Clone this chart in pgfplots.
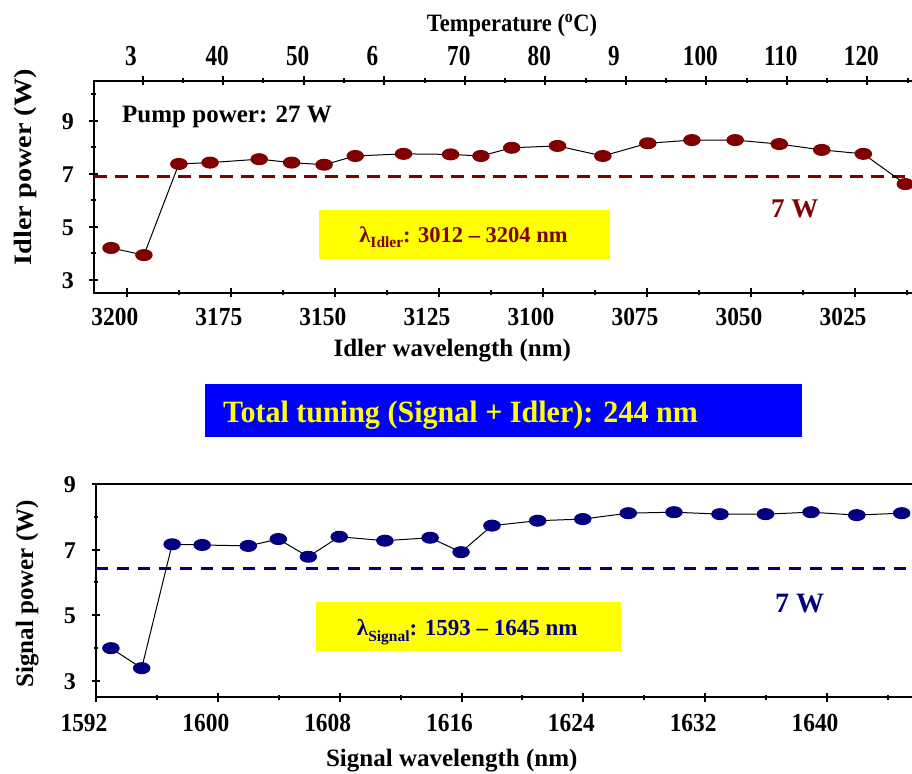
\documentclass[border=0pt]{standalone}
\usepackage{fontspec}
\setmainfont{Liberation Serif}
\newfontfamily\fxt{Liberation Serif}[FakeStretch=0.9]
\newfontfamily\ftt{Liberation Serif}[FakeStretch=0.8]
\newfontfamily\fyl{Liberation Serif}[FakeStretch=1.13]
\newfontfamily\fti{Liberation Serif}[FakeStretch=0.9]
\newfontfamily\fban{Liberation Serif}[FakeStretch=0.97]
\usepackage{pgfplots}
\pgfplotsset{compat=1.18}
\definecolor{dred}{RGB}{128,0,0}
\definecolor{navy}{RGB}{0,0,128}
\definecolor{ybox}{RGB}{255,255,0}
\definecolor{bban}{RGB}{0,0,255}

\pgfplotstableread{
x y
3203.8 4.20
3195.9 3.93
3187.5 7.37
3180.0 7.42
3168.2 7.55
3160.4 7.42
3152.6 7.34
3145.1 7.67
3133.5 7.75
3122.2 7.73
3114.9 7.67
3107.5 7.98
3096.5 8.05
3085.6 7.67
3074.8 8.15
3064.2 8.27
3053.8 8.27
3043.2 8.12
3033.0 7.90
3023.0 7.75
3012.9 6.61
}\idler

\pgfplotstableread{
x y
1592.98 3.99
1595.00 3.38
1597.00 7.16
1598.97 7.14
1602.00 7.11
1603.97 7.32
1605.94 6.78
1607.97 7.39
1610.97 7.27
1613.94 7.36
1615.97 6.92
1618.00 7.73
1621.00 7.88
1623.96 7.93
1626.95 8.11
1629.95 8.14
1632.97 8.08
1635.96 8.08
1638.95 8.14
1641.95 8.05
1644.90 8.11
}\signal

\pgfplotsset{
  mystyle/.style={
    scale only axis,
    axis line style={line width=2.5pt, line cap=rect},
    x axis line style={-},
    y axis line style={-},
    every outer x axis line/.append style={-},
    every outer y axis line/.append style={-},
    tick align=inside,
    major tick length=9pt,
    minor tick length=5pt,
    every tick/.style={black, line width=2pt},
    /pgf/number format/assume math mode=true,
    /pgf/number format/1000 sep={},
    yticklabel style={font=\bfseries\fontsize{24}{24}\selectfont, anchor=east, inner sep=0pt, xshift=-15.5pt, yshift=-1pt},
    xlabel style={font=\bfseries\fontsize{25}{25}\selectfont, anchor=base},
  },
  wavetick/.style={
    xticklabel style={font=\fxt\bfseries\fontsize{26}{26}\selectfont, anchor=base, inner sep=0pt, yshift=#1, xshift=-12pt},
  }
}

\begin{document}
\begin{tikzpicture}[x=1pt,y=1pt]
\useasboundingbox (0,0) rectangle (912,773);

% ---------- Idler (top) ----------
\begin{axis}[mystyle, wavetick=-28.5pt,
  at={(94pt,480pt)}, anchor=south west,
  width=818pt, height=212pt,
  x dir=reverse,
  xmin=3011.3, xmax=3207.9, ymin=2.5, ymax=10.5,
  axis x line=bottom, axis y line=left,
  x axis line style={-}, y axis line style={-},
  xtick={3025,3050,...,3200},
  minor xtick={3012.5,3037.5,...,3187.5},
  ytick={3,5,7,9}, minor ytick={4,6,8,10},
  xlabel={Idler wavelength (nm)},
  xlabel style={at={(axis description cs:0.438,-0.300)}},
  ylabel={Idler power (W)},
  ylabel style={font=\fyl\bfseries\fontsize{25}{25}\selectfont, at={(axis description cs:-0.0758,0.594)}, anchor=base},
]
\addplot[dred, line width=3pt, dash pattern=on 13pt off 8pt] coordinates {(3207.9,6.90) (3011.3,6.90)};
\addplot[black, line width=1pt, mark=*, mark size=5.5pt,
  mark options={xscale=1.5, fill=dred, draw=dred, solid}] table {\idler};
\end{axis}

% ---------- Temperature (top scale) ----------
\begin{axis}[mystyle,
  at={(94pt,480pt)}, anchor=south west,
  width=818pt, height=212pt,
  xmin=23.95, xmax=125.55, ymin=0, ymax=1,
  axis x line=top, axis y line=none, ytick=\empty,
  x axis line style={-},
  xtick={30,40,...,120},
  xticklabels={3\phantom{0},40,50,6\phantom{0},70,80,9\phantom{0},100,110,120},
  minor xtick={35,45,...,125},
  xticklabel style={font=\ftt\bfseries\fontsize{29}{29}\selectfont, anchor=base, inner sep=0pt, yshift=11pt, xshift=-6pt},
  xlabel={Temperature (\textsuperscript{o}C)},
  xlabel style={font=\fti\bfseries\fontsize{25}{25}\selectfont, at={(axis description cs:0.511,1.2325)}, anchor=base},
]
\end{axis}

% ---------- Signal (bottom) ----------
\begin{axis}[mystyle, wavetick=-29.5pt,
  at={(96pt,76pt)}, anchor=south west,
  width=816pt, height=213pt,
  xmin=1592, xmax=1645.58, ymin=2.5, ymax=9,
  axis x line=bottom, axis y line=left,
  x axis line style={-}, y axis line style={-},
  xtick={1592,1600,...,1640},
  minor xtick={1596,1604,...,1644},
  ytick={3,5,7,9}, minor ytick={4,6,8},
  xlabel={Signal wavelength (nm)},
  xlabel style={at={(axis description cs:0.436,-0.327)}},
  ylabel={Signal power (W)},
  ylabel style={font=\bfseries\fontsize{25}{25}\selectfont, at={(axis description cs:-0.0772,0.4836)}, anchor=base},
]
\addplot[navy, line width=3pt, dash pattern=on 12pt off 9pt] coordinates {(1592,6.43) (1645.58,6.43)};
\addplot[black, line width=1pt, mark=*, mark size=5.5pt,
  mark options={xscale=1.5, fill=navy, draw=navy, solid}] table {\signal};
\end{axis}
% top line of the signal box
\draw[line width=2.5pt, line cap=rect] (96,289) -- (912,289);

% ---------- annotations ----------
\node[anchor=base west, inner sep=0pt, font=\bfseries\fontsize{25}{25}\selectfont] at (122,650) {Pump power: 27 W};
\node[anchor=base west, inner sep=0pt, text=dred, font=\bfseries\fontsize{27}{27}\selectfont] at (771,555.7) {7 W};
\node[anchor=base west, inner sep=0pt, text=navy, font=\bfseries\fontsize{28}{28}\selectfont] at (775,160.3) {7 W};

\fill[ybox] (319,514) rectangle (610,563);
\node[anchor=base, inner sep=0pt, text=dred, font=\bfseries\fontsize{22.5}{22.5}\selectfont] at (463.5,530)
  {λ\raisebox{-0.22em}{\fontsize{15.5}{15.5}\selectfont Idler}: 3012 – 3204 nm};

\fill[ybox] (316,122) rectangle (621,171);
\node[anchor=base, inner sep=0pt, text=navy, font=\bfseries\fontsize{23}{23}\selectfont] at (467.3,137)
  {λ\raisebox{-0.22em}{\fontsize{15.5}{15.5}\selectfont Signal}: 1593 – 1645 nm};

\fill[bban] (205,336) rectangle (802,389);
\node[anchor=base west, inner sep=0pt, text=ybox, font=\fban\bfseries\fontsize{31}{31}\selectfont] at (223,350.3)
  {Total tuning (Signal + Idler): 244 nm};
\end{tikzpicture}
\end{document}
